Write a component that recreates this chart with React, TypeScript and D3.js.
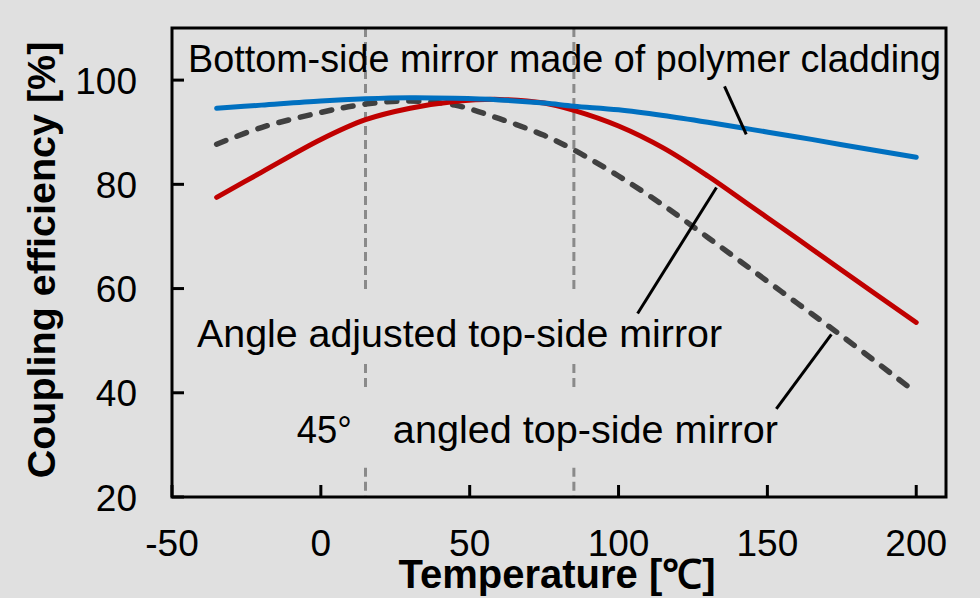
import React from "react";
import * as d3 from "d3";

const temps = [-35, -20, 0, 15, 30, 45, 60, 75, 85, 100, 115, 130, 145, 160, 175, 200];
const blueVals = [94.6, 95.2, 96.0, 96.4, 96.6, 96.5, 96.2, 95.6, 95.0, 94.3, 93.2, 91.9, 90.5, 89.1, 87.6, 85.2];
const redVals = [77.5, 82.3, 88.6, 92.4, 94.6, 95.9, 96.3, 95.6, 94.2, 91.2, 87.0, 81.6, 75.6, 69.6, 63.5, 53.5];
const dashVals = [87.7, 90.9, 93.8, 95.4, 96.0, 95.2, 92.6, 89.4, 86.6, 81.6, 76.0, 69.8, 63.5, 57.2, 50.9, 40.0];

const xTicks = [-50, 0, 50, 100, 150, 200];
const yTicks = [20, 40, 60, 80, 100];
const markerTemps = [15, 85];
const markerSegments: [number, number][] = [[110, 59.5], [45.5, 40.2], [25.6, 20]];

const labelBlue = "Bottom-side mirror made of polymer cladding";
const labelRed = "Angle adjusted top-side mirror";
const label45 = "45°";
const labelDash = "angled top-side mirror";
const xTitle = "Temperature [℃]";
const yTitle = "Coupling efficiency [%]";

export default function App() {
  const W = 980, H = 598;
  const x = d3.scaleLinear().domain([-50, 210]).range([172, 946]);
  const y = d3.scaleLinear().domain([20, 110]).range([497, 28]);
  const line = d3.line<number>().x((_, i) => x(temps[i])).y((v) => y(v)).curve(d3.curveCatmullRom.alpha(0.5));
  const font = "'Liberation Sans', Arial, sans-serif";
  const bg = "#e0e0e0";

  const leaders: [number, number, number, number][] = [
    [135.6, 98.8, 142.9, 89.6],
    [132.9, 79.4, 106.4, 55.2],
    [171.5, 51.2, 153, 36.9],
  ];

  return (
    <div style={{ position: "fixed", left: 0, top: 0 }}>
      <svg width={W} height={H} style={{ display: "block" }}>
        <rect x={0} y={0} width={W} height={H} fill={bg} />
        {markerTemps.map((t) =>
          markerSegments.map((s, j) => (
            <line key={`${t}-${j}`} x1={x(t)} x2={x(t)} y1={y(s[0])} y2={y(s[1])}
              stroke="#8a8a8a" strokeWidth={3} strokeDasharray="9 5" />
          ))
        )}
        <path d={line(dashVals) || ""} fill="none" stroke="#404040" strokeWidth={5.5}
          strokeDasharray="10 12" strokeLinecap="round" />
        <path d={line(redVals) || ""} fill="none" stroke="#c00000" strokeWidth={5} strokeLinecap="round" />
        <path d={line(blueVals) || ""} fill="none" stroke="#0070c0" strokeWidth={5} strokeLinecap="round" />
        {leaders.map((l, i) => (
          <line key={i} x1={x(l[0])} y1={y(l[1])} x2={x(l[2])} y2={y(l[3])} stroke="#000" strokeWidth={3} />
        ))}
        <rect x={x(-50)} y={y(110)} width={x(210) - x(-50)} height={y(20) - y(110)} fill="none" stroke="#000" strokeWidth={3} />
        {xTicks.map((t) => (
          <g key={t}>
            <line x1={x(t)} x2={x(t)} y1={y(20)} y2={y(20) - 12} stroke="#000" strokeWidth={3} />
            <text x={x(t)} y={556} textAnchor="middle" fontFamily={font} fontSize={37} fill="#000">{t}</text>
          </g>
        ))}
        {yTicks.map((t) => (
          <g key={t}>
            <line x1={x(-50)} x2={x(-50) + 12} y1={y(t)} y2={y(t)} stroke="#000" strokeWidth={3} />
            <text x={137} y={y(t) + 13.5} textAnchor="end" fontFamily={font} fontSize={37} fill="#000">{t}</text>
          </g>
        ))}
        <text x={x(-44.6)} y={y(101.5)} fontFamily={font} fontSize={38} fill="#000"
          textLength={753} lengthAdjust="spacingAndGlyphs">{labelBlue}</text>
        <text x={x(-41.6)} y={y(48.7)} fontFamily={font} fontSize={38} fill="#000"
          textLength={525} lengthAdjust="spacingAndGlyphs">{labelRed}</text>
        <text x={x(-8.1)} y={y(30.4)} fontFamily={font} fontSize={38} fill="#000"
          textLength={55} lengthAdjust="spacingAndGlyphs">{label45}</text>
        <text x={x(24.2)} y={y(30.4)} fontFamily={font} fontSize={38} fill="#000"
          textLength={385} lengthAdjust="spacingAndGlyphs">{labelDash}</text>
        <text x={557} y={588} textAnchor="middle" fontFamily={font} fontSize={40} fontWeight="bold" fill="#000">{xTitle}</text>
        <text transform="translate(55,260) rotate(-90)" textAnchor="middle" fontFamily={font} fontSize={39.5} fontWeight="bold" fill="#000">{yTitle}</text>
      </svg>
    </div>
  );
}
